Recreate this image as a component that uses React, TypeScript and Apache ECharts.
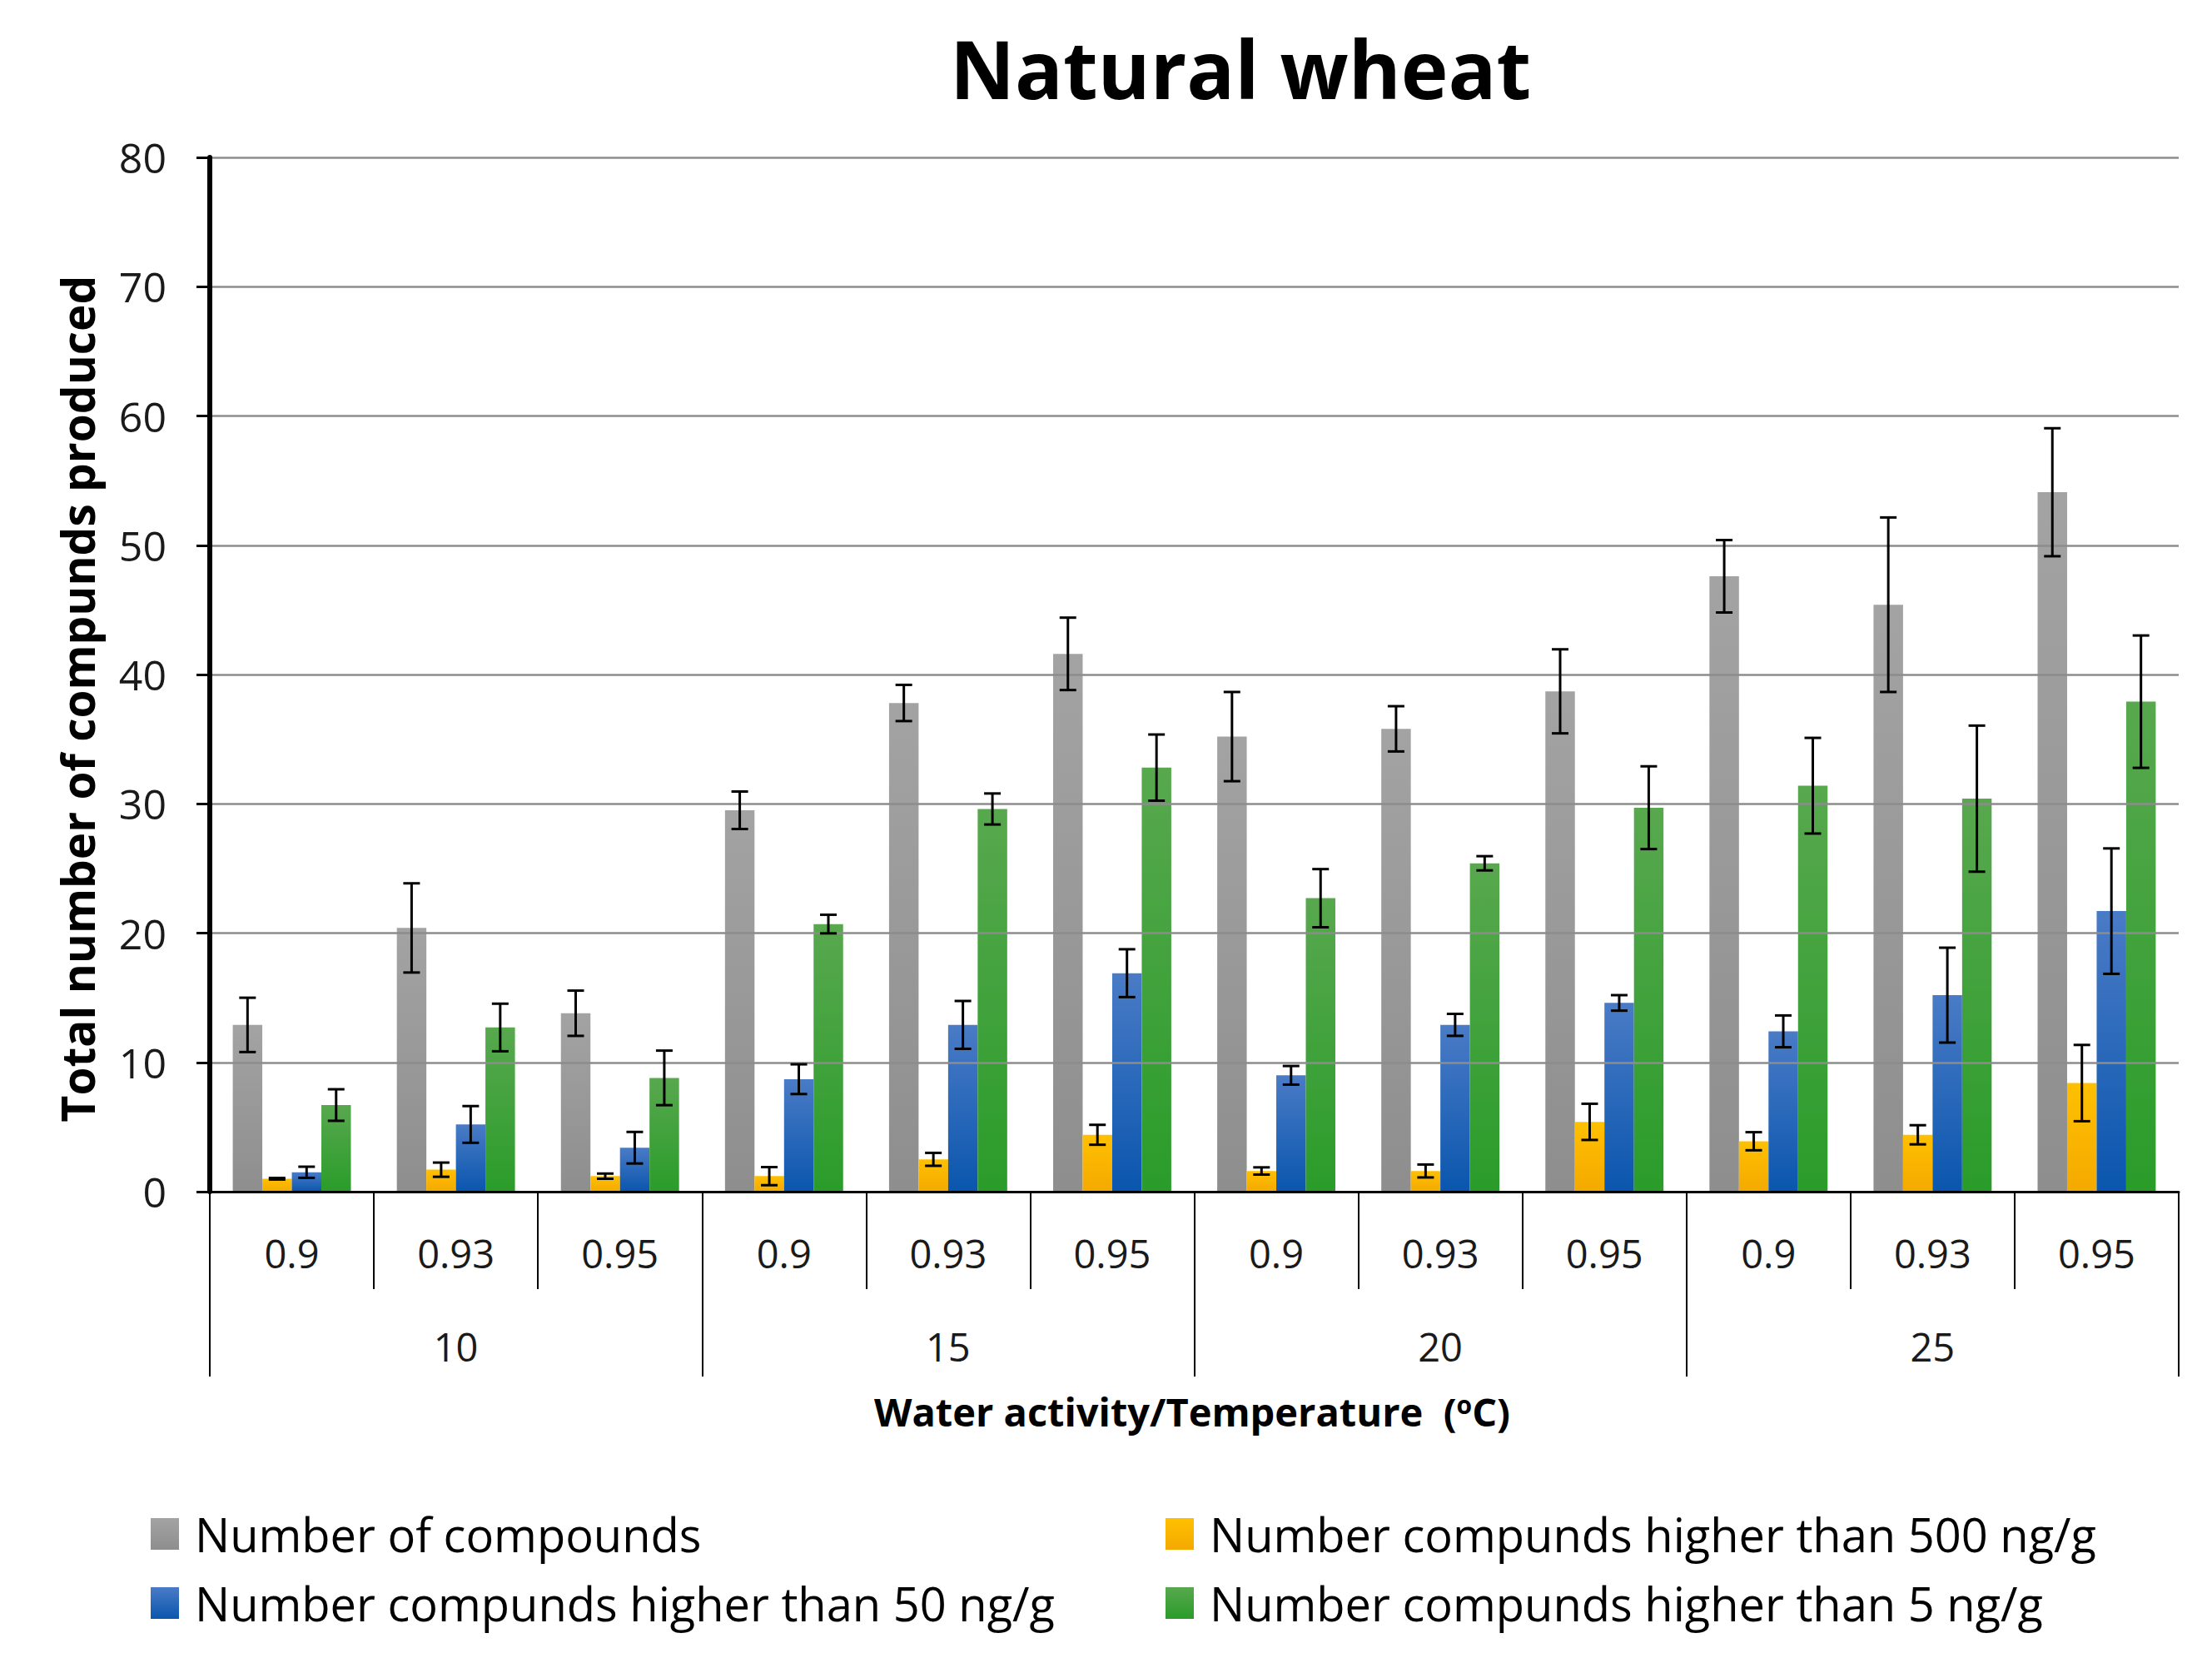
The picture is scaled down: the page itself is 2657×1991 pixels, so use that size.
import React, { useEffect, useRef } from "react";
import * as echarts from "echarts";

const awLabels = ["0.9", "0.93", "0.95", "0.9", "0.93", "0.95", "0.9", "0.93", "0.95", "0.9", "0.93", "0.95"];
const tempLabels = ["10", "15", "20", "25"];
const seriesNames = [
  "Number of compounds",
  "Number compunds higher than 500 ng/g",
  "Number compunds higher than 50 ng/g",
  "Number compunds higher than 5 ng/g",
];
const totalCompounds = [12.9, 20.4, 13.8, 29.5, 37.8, 41.6, 35.2, 35.8, 38.7, 47.6, 45.4, 54.1];
const totalErr = [2.1, 3.45, 1.75, 1.45, 1.4, 2.8, 3.45, 1.75, 3.25, 2.8, 6.75, 4.95];
const above500 = [1.0, 1.7, 1.2, 1.2, 2.5, 4.4, 1.6, 1.6, 5.4, 3.9, 4.4, 8.4];
const above500Err = [0.06, 0.55, 0.2, 0.7, 0.5, 0.77, 0.28, 0.5, 1.4, 0.7, 0.74, 2.95];
const above50 = [1.5, 5.2, 3.4, 8.7, 12.9, 16.9, 9.0, 12.9, 14.6, 12.4, 15.2, 21.7];
const above50Err = [0.43, 1.42, 1.22, 1.15, 1.85, 1.85, 0.72, 0.85, 0.6, 1.23, 3.67, 4.85];
const above5 = [6.7, 12.7, 8.8, 20.7, 29.6, 32.8, 22.7, 25.4, 29.7, 31.4, 30.4, 37.9];
const above5Err = [1.22, 1.84, 2.11, 0.72, 1.2, 2.56, 2.25, 0.55, 3.2, 3.7, 5.65, 5.12];

const FONT = "'Open Sans', 'DejaVu Sans', sans-serif";

export default function App() {
  const ref = useRef<HTMLDivElement>(null);
  useEffect(() => {
    if (!ref.current) return;
    const chart = echarts.init(ref.current, undefined, { renderer: "svg" });
    const grad = (a: string, b: string) =>
      new echarts.graphic.LinearGradient(0, 0, 0, 1, [
        { offset: 0, color: a },
        { offset: 1, color: b },
      ]);
    const colors = [
      grad("#a3a3a3", "#8e8e8e"),
      grad("#ffc000", "#f4a900"),
      grad("#4a7bc6", "#0a56ae"),
      grad("#58a84e", "#2a9c2a"),
    ];
    const values = [totalCompounds, above500, above50, above5];
    const errs = [totalErr, above500Err, above50Err, above5Err];
    const gap = 0.28;

    const barSeries = values.map((v, k) => ({
      name: seriesNames[k],
      type: "bar",
      data: v,
      barGap: "0%",
      barCategoryGap: "28%",
      itemStyle: { color: colors[k] },
      z: 2,
    }));

    const errSeries = values.map((v, k) => ({
      type: "custom",
      name: "err" + k,
      data: v.map((val, i) => [i, val - errs[k][i], val + errs[k][i]]),
      encode: { x: 0, y: [1, 2] },
      z: 5,
      renderItem: (params: any, api: any) => {
        const idx = api.value(0);
        const lo = api.value(1);
        const hi = api.value(2);
        const top = api.coord([idx, hi]);
        const bot = api.coord([idx, lo]);
        const band = api.size([1, 0])[0];
        const barW = (band * (1 - gap)) / 4;
        const x = top[0] - (band * (1 - gap)) / 2 + barW * (k + 0.5);
        const cap = 10;
        const st = { stroke: "#000", lineWidth: 3 };
        return {
          type: "group",
          children: [
            { type: "line", shape: { x1: x, y1: top[1], x2: x, y2: bot[1] }, style: st },
            { type: "line", shape: { x1: x - cap, y1: top[1], x2: x + cap, y2: top[1] }, style: st },
            { type: "line", shape: { x1: x - cap, y1: bot[1], x2: x + cap, y2: bot[1] }, style: st },
          ],
        };
      },
    }));

    const legendPos = [
      { left: 181, top: 1812 },
      { left: 1400, top: 1812 },
      { left: 181, top: 1895 },
      { left: 1400, top: 1895 },
    ];

    chart.setOption({
      animation: false,
      backgroundColor: "#fff",
      title: {
        text: "Natural wheat",
        left: 1485,
        top: 28,
        textAlign: "center",
        textStyle: { fontFamily: FONT, fontWeight: "bold", fontSize: 96, color: "#000" },
      },
      legend: seriesNames.map((n, k) => ({
        data: [n],
        left: legendPos[k].left,
        top: legendPos[k].top,
        padding: 0,
        icon: "rect",
        itemWidth: 34,
        itemHeight: 38,
        itemGap: 0,
        selectedMode: false,
        textStyle: { fontFamily: FONT, fontSize: 56, lineHeight: 60, color: "#000", padding: [0, 0, 0, 14] },
      })),
      grid: { left: 252, right: 40, top: 189, bottom: 560, containLabel: false },
      xAxis: [
        {
          type: "category",
          data: awLabels,
          axisLine: { show: true, lineStyle: { color: "#000", width: 3 } },
          axisTick: { show: true, interval: 0, length: 117, lineStyle: { color: "#000", width: 2 } },
          axisLabel: { interval: 0, margin: 50, fontFamily: FONT, fontSize: 47, color: "#1a1a1a" },
          splitLine: { show: false },
          z: 3,
        },
        {
          type: "category",
          data: tempLabels,
          position: "bottom",
          axisLine: { show: false },
          axisTick: { show: true, interval: 0, length: 222, lineStyle: { color: "#000", width: 2 } },
          axisLabel: { interval: 0, margin: 162, fontFamily: FONT, fontSize: 47, color: "#1a1a1a" },
          splitLine: { show: false },
        },
      ],
      yAxis: {
        type: "value",
        min: 0,
        max: 80,
        interval: 10,
        axisLine: { show: true, lineStyle: { color: "#000", width: 6 } },
        axisTick: { show: true, length: 16, lineStyle: { color: "#000", width: 3 } },
        axisLabel: { margin: 52, fontFamily: FONT, fontSize: 50, color: "#1a1a1a" },
        splitLine: { show: true, lineStyle: { color: "#8c8c8c", width: 2.5 } },
        z: 3,
      },
      graphic: [
        {
          type: "text",
          x: 92,
          y: 839,
          rotation: Math.PI / 2,
          style: {
            text: "Total number of compunds produced",
            align: "center",
            verticalAlign: "middle",
            font: "bold 55px 'Open Sans', 'DejaVu Sans', sans-serif",
            fill: "#000",
          },
        },
        {
          type: "text",
          x: 1432,
          y: 1695,
          style: {
            text: "{b|Water activity/Temperature  (}{s|o}{b|C)}",
            align: "center",
            verticalAlign: "middle",
            rich: {
              b: { fontFamily: FONT, fontWeight: "bold", fontSize: 47, fill: "#000", color: "#000" },
              s: { fontFamily: FONT, fontWeight: "bold", fontSize: 30, fill: "#000", color: "#000", verticalAlign: "top", padding: [0, 0, 18, 0] },
            },
          },
        },
      ],
      series: [...barSeries, ...errSeries],
    });
    return () => chart.dispose();
  }, []);
  return <div ref={ref} style={{ position: "absolute", left: 0, top: 0, width: 2657, height: 1991 }} />;
}
